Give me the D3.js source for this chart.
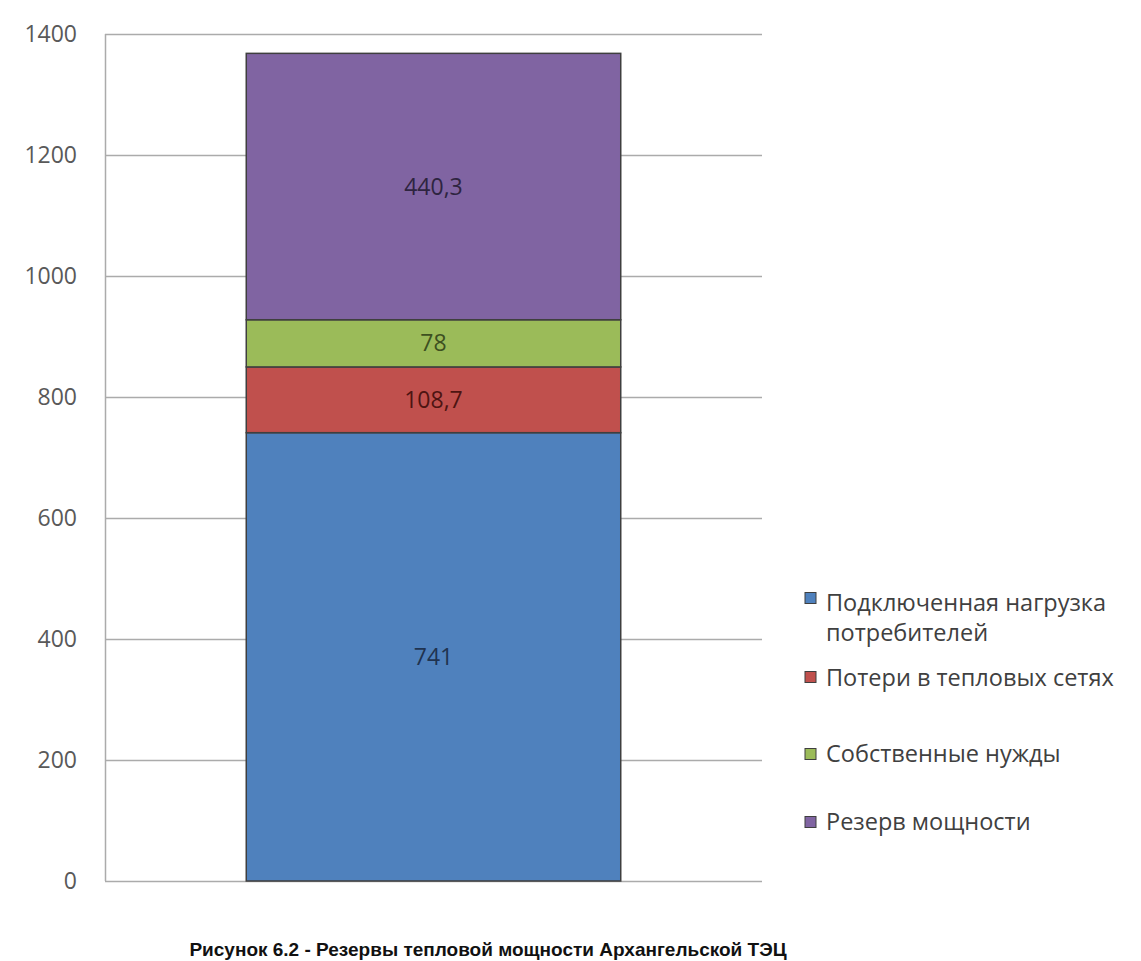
<!DOCTYPE html>
<html><head><meta charset="utf-8">
<script src="https://cdn.jsdelivr.net/npm/d3@7"></script>
<style>body{margin:0;background:#fff}svg{display:block}</style>
</head><body>
<svg id="c" width="1141" height="961"></svg>
<script>
const seriesNames = ["Подключенная нагрузка потребителей","Потери в тепловых сетях","Собственные нужды","Резерв мощности"];
const seriesValues = [741, 108.7, 78, 440.3];
const valueLabels = ["741","108,7","78","440,3"];
const fillColors = ["#4f81bd","#c0504d","#9bbb59","#8064a2"];
const labelColors = ["#1f3350","#4d1412","#3d5020","#2e2440"];
const yTicks = [0,200,400,600,800,1000,1200,1400];
const category = ["ТЭЦ"];

const svg = d3.select("#c");
const L = 105, R = 762, T = 34, B = 881;
const y = d3.scaleLinear().domain([0,1400]).range([B,T]);
const x = d3.scaleBand().domain(category).range([L,R]).paddingInner(0.43).paddingOuter(0.213);

// gridlines
svg.append("g").selectAll("line").data(yTicks).join("line")
  .attr("x1",L).attr("x2",R).attr("y1",d=>y(d)+0.5).attr("y2",d=>y(d)+0.5)
  .attr("stroke","#ababab").attr("stroke-width",1.5);
svg.append("line").attr("x1",L+0.5).attr("x2",L+0.5).attr("y1",T).attr("y2",B)
  .attr("stroke","#ababab").attr("stroke-width",1.5);

// axis labels
const ax = d3.axisLeft(y).tickValues(yTicks).tickSize(0).tickPadding(28).tickFormat(d3.format("d"));
const g = svg.append("g").attr("transform",`translate(${L},0)`).call(ax);
g.select(".domain").remove();
g.selectAll("text").attr("font-family","'Open Sans', sans-serif").attr("font-size",23).attr("fill","#595959");

// stacked bars
let acc = 0;
const stacked = seriesValues.map((v,i)=>{const s={i,v,y0:acc,y1:acc+v}; acc+=v; return s;});
const bx = x("ТЭЦ"), bw = x.bandwidth();
svg.append("g").selectAll("rect").data(stacked).join("rect")
  .attr("x",bx).attr("width",bw)
  .attr("y",d=>y(d.y1)).attr("height",d=>y(d.y0)-y(d.y1))
  .attr("fill",d=>fillColors[d.i]).attr("stroke","#3f3f3f").attr("stroke-width",1.5);
svg.append("g").selectAll("text").data(stacked).join("text")
  .attr("x",bx+bw/2).attr("y",d=>y((d.y0+d.y1)/2))
  .attr("dy","0.35em").attr("text-anchor","middle")
  .attr("font-family","'Open Sans', sans-serif").attr("font-size",23)
  .attr("fill",d=>labelColors[d.i]).text(d=>valueLabels[d.i]);

// legend
const legSq = [598, 677, 754, 822];
const legTx = [603, 678, 754, 822];
const leg = svg.append("g");
seriesNames.forEach((n,i)=>{
  leg.append("rect").attr("x",805).attr("y",legSq[i]-5.5).attr("width",11).attr("height",11)
    .attr("fill",fillColors[i]).attr("stroke","#3f3f3f").attr("stroke-width",1);
  const t = leg.append("text").attr("x",826).attr("y",legTx[i]).attr("dy","0.35em")
    .attr("font-family","'Open Sans', sans-serif").attr("font-size",23.5).attr("fill","#404040");
  if(i===0){
    t.append("tspan").attr("x",826).text("Подключенная нагрузка");
    t.append("tspan").attr("x",826).attr("dy","1.28em").text("потребителей");
  } else t.text(n);
});

// caption
svg.append("text").attr("x",488).attr("y",956).attr("text-anchor","middle")
  .attr("font-family","'Liberation Sans', Arial, sans-serif").attr("font-weight","bold")
  .attr("font-size",19).attr("fill","#111").text("Рисунок 6.2 - Резервы тепловой мощности Архангельской ТЭЦ");
</script>
</body></html>
